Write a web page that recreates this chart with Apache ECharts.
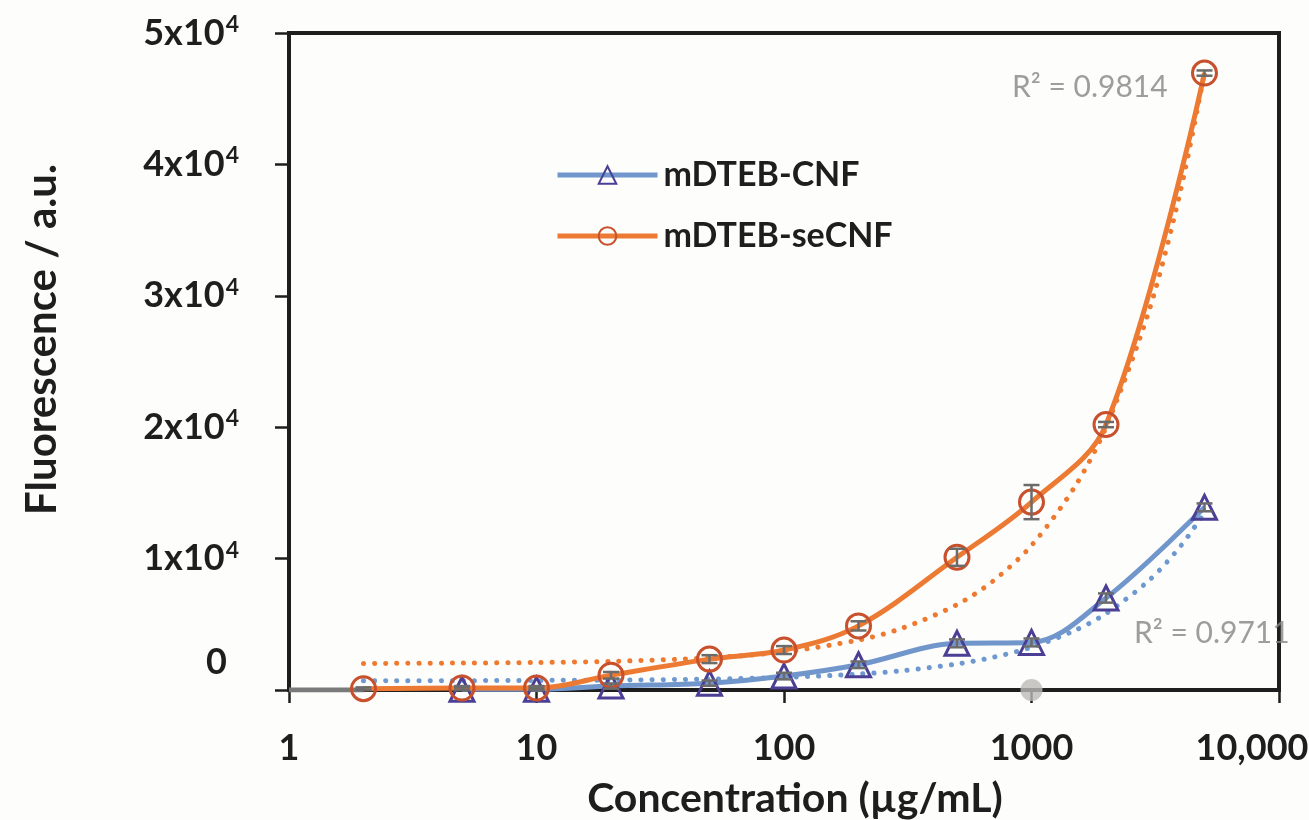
<!DOCTYPE html>
<html>
<head>
<meta charset="UTF-8">
<title>Fluorescence vs concentration</title>
<style>
  html, body { margin: 0; padding: 0; background: #fdfdfb; }
  #main { width: 1309px; height: 820px; }
</style>
</head>
<body>
<div id="main"></div>
<script src="https://cdn.jsdelivr.net/npm/echarts@6/dist/echarts.min.js"></script>
<script>
// concentrations (µg/mL)
var cnfX = [5, 10, 20, 50, 100, 200, 500, 1000, 2000, 5000];
var cnfY = [50, 50, 300, 520, 1060, 1920, 3550, 3620, 7000, 13900];
var cnfErr = [150, 120, 200, 200, 250, 250, 300, 300, 350, 300];

var secnfX = [2, 5, 10, 20, 50, 100, 200, 500, 1000, 2000, 5000];
var secnfY = [100, 150, 150, 1120, 2350, 3040, 4880, 10100, 14300, 20200, 46950];
var secnfErr = [100, 150, 150, 250, 300, 300, 350, 650, 1300, 200, 200];

// trend lines
var trendX = [2, 5, 10, 20, 50, 100, 200, 300, 500, 700, 1000, 1500, 2000, 3000, 4000, 5000];
var cnfTrend = [700, 710, 730, 750, 830, 960, 1210, 1470, 1980, 2490, 3260, 4540, 5820, 8380, 10940, 13500];
var secnfTrend = [2020, 2050, 2090, 2180, 2450, 2900, 3800, 4700, 6500, 8300, 11000, 15500, 20000, 29000, 38000, 47000];

// grey reference series
var greyLineX = [1, 2];
var greyLineY = [0, 0];
var greyDot = [[1000, 0]];

// R² annotations: [x, y, text]
var r2Labels = [
  [1720, 45900, 'R\u00b2 = 0.9814'],
  [5350, 4330, 'R\u00b2 = 0.9711']
];

function pairs(xs, ys) {
  return xs.map(function (x, i) { return [x, ys[i]]; });
}

function errData(xs, ys, es) {
  return xs.map(function (x, i) { return [x, ys[i], es[i]]; });
}

function errRender(params, api) {
  var x = api.value(0), y = api.value(1), e = api.value(2);
  var hi = api.coord([x, y + e]);
  var lo = api.coord([x, Math.max(y - e, 0.0001)]);
  var w = 8;
  var st = { stroke: '#6b6b6b', lineWidth: 2.5 };
  return {
    type: 'group',
    children: [
      { type: 'line', shape: { x1: hi[0], y1: hi[1], x2: lo[0], y2: lo[1] }, style: st },
      { type: 'line', shape: { x1: hi[0] - w, y1: hi[1], x2: hi[0] + w, y2: hi[1] }, style: st },
      { type: 'line', shape: { x1: lo[0] - w, y1: lo[1], x2: lo[0] + w, y2: lo[1] }, style: st }
    ]
  };
}

var FONT = 'Lato';
var ink = '#1e1e1e';

var myChart = echarts.init(document.getElementById('main'));

myChart.setOption({
  backgroundColor: '#fdfdfb',
  textStyle: { fontFamily: FONT },
  animation: false,
  grid: {
    left: 289, right: 30, top: 33, bottom: 130,
    outerBoundsMode: 'none', containLabel: false,
    show: true, borderColor: '#1e1e1e', borderWidth: 4, backgroundColor: 'transparent'
  },
  legend: {
    left: 550, top: 153,
    orient: 'vertical',
    itemWidth: 100, itemHeight: 22, itemGap: 27,
    data: ['mDTEB-CNF', 'mDTEB-seCNF'],
    lineStyle: { width: 5 },
    textStyle: { fontFamily: FONT, fontSize: 34, fontWeight: 'bold', color: ink, padding: [0, 0, 0, 1] }
  },
  xAxis: {
    type: 'log', logBase: 10, min: 1, max: 10000,
    name: 'Concentration (\u00b5g/mL)', nameLocation: 'middle', nameGap: 88,
    nameTextStyle: { fontFamily: FONT, fontSize: 41, fontWeight: 'bold', color: ink, padding: [0, 0, 0, 22] },
    axisLine: { lineStyle: { color: '#1e1e1e', width: 4 } },
    axisTick: { length: 13, lineStyle: { color: '#1e1e1e', width: 2.5 } },
    minorTick: { show: false },
    splitLine: { show: false },
    axisLabel: {
      margin: 40, color: ink, fontSize: 36, fontWeight: 'bold', fontFamily: FONT,
      formatter: function (v) {
        var n = Math.round(v);
        // trailing en spaces pull the last label left, inside the canvas
        if (n >= 10000) return '10,000\u2002\u2002\u2002';
        return String(n);
      }
    }
  },
  yAxis: {
    type: 'value', min: 0, max: 50000, interval: 10000,
    name: 'Fluorescence / a.u.', nameLocation: 'middle', nameGap: 226,
    nameTextStyle: { fontFamily: FONT, fontSize: 42, fontWeight: 'bold', color: ink, padding: [0, 0, 0, 44] },
    axisLine: { show: true, lineStyle: { color: '#1e1e1e', width: 4 } },
    axisTick: { show: true, length: 14, lineStyle: { color: '#1e1e1e', width: 2.5 } },
    splitLine: { show: false },
    axisLabel: {
      margin: 50, color: ink,
      formatter: function (v) {
        if (v === 0) return '{z|0}';
        return '{b|' + (v / 10000) + 'x10}{s|4}';
      },
      rich: {
        b: { fontSize: 36, fontWeight: 'bold', fontFamily: FONT, color: ink, lineHeight: 40 },
        s: { fontSize: 23, fontWeight: 'bold', fontFamily: FONT, color: ink, verticalAlign: 'top', lineHeight: 24, padding: [0, 0, 14, 1] },
        z: { fontSize: 36, fontWeight: 'bold', fontFamily: FONT, color: ink, padding: [0, 12, 56, 0] }
      }
    }
  },
  series: [
    {
      name: 'grey', type: 'line', data: pairs(greyLineX, greyLineY),
      symbol: 'none', lineStyle: { color: '#7a7a7a', width: 5 }, z: 1, silent: true
    },
    {
      name: 'grey dot', type: 'scatter', data: greyDot,
      symbol: 'circle', symbolSize: 22, itemStyle: { color: '#bdbab8' }, z: 5
    },
    {
      name: 'cnf trend', type: 'line', data: pairs(trendX, cnfTrend),
      smooth: 0.3, symbol: 'none',
      lineStyle: { color: '#6e98d0', width: 5, type: [0.1, 11], cap: 'round' }, z: 2
    },
    {
      name: 'secnf trend', type: 'line', data: pairs(trendX, secnfTrend),
      smooth: 0.3, symbol: 'none',
      lineStyle: { color: '#ee7a30', width: 5, type: [0.1, 11], cap: 'round' }, z: 2
    },
    {
      name: 'R2', type: 'scatter', data: r2Labels,
      symbolSize: 1, itemStyle: { color: 'rgba(0,0,0,0)' }, silent: true, z: 7,
      label: {
        show: true, position: 'inside', fontFamily: FONT, fontSize: 30, color: '#858585',
        formatter: function (p) { return p.value[2]; }
      }
    },
    {
      name: 'mDTEB-CNF', type: 'line', data: pairs(cnfX, cnfY),
      smooth: 0.35, symbol: 'triangle', symbolSize: 24,
      lineStyle: { color: '#7196cb', width: 5 },
      itemStyle: { color: 'rgba(255,255,255,0)', borderColor: '#4a3f94', borderWidth: 3 },
      z: 3
    },
    {
      name: 'mDTEB-seCNF', type: 'line', data: pairs(secnfX, secnfY),
      smooth: 0.35, symbol: 'circle', symbolSize: 24,
      lineStyle: { color: '#ec7a32', width: 5 },
      itemStyle: { color: 'rgba(255,255,255,0)', borderColor: '#c8502c', borderWidth: 3 },
      z: 4
    },
    {
      name: 'cnf err', type: 'custom', renderItem: errRender,
      data: errData(cnfX, cnfY, cnfErr), z: 6, silent: true
    },
    {
      name: 'secnf err', type: 'custom', renderItem: errRender,
      data: errData(secnfX, secnfY, secnfErr), z: 6, silent: true
    }
  ]
});
</script>
</body>
</html>
